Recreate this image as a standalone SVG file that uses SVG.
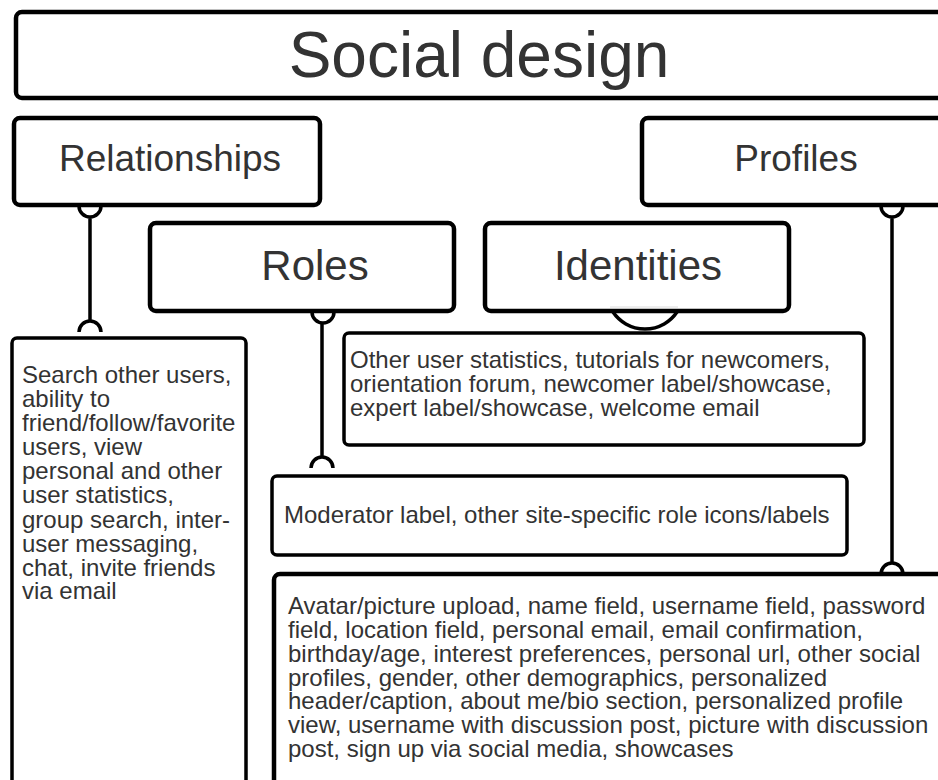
<svg xmlns="http://www.w3.org/2000/svg" width="938" height="780" viewBox="0 0 938 780">
<style>
.box{fill:#fff;stroke:#000;stroke-width:4.5}
.dbox{fill:#fff;stroke:#000;stroke-width:3.5}
.t{font-family:"Liberation Sans",Arial,sans-serif;fill:#333}
.title{font-size:64px;text-anchor:middle}
.lbl{font-size:37px;text-anchor:middle}
.lbl2{font-size:42px;text-anchor:middle}
.body{font-size:24px}
.conn{fill:none;stroke:#000;stroke-width:3.5}
</style>
<rect width="938" height="780" fill="#fff"/>
<g id="title">
<rect class="box" x="16" y="12" width="940" height="86" rx="6"/>
<text class="t title" x="479" y="77">Social design</text>
</g>
<g id="relationships">
<rect class="box" x="14" y="118" width="306" height="87" rx="6"/>
<text class="t lbl" x="170" y="171">Relationships</text>
</g>
<g id="profiles">
<rect class="box" x="642" y="118" width="310" height="87" rx="6"/>
<text class="t lbl" x="796" y="171">Profiles</text>
</g>
<g id="roles">
<rect class="box" x="150" y="223" width="304" height="88" rx="6"/>
<text class="t lbl2" x="315" y="280">Roles</text>
</g>
<g id="identities">
<rect class="box" x="485" y="223" width="304" height="88" rx="6"/>
<text class="t lbl2" x="638" y="280">Identities</text>
</g>
<g id="relationships-detail">
<rect class="dbox" x="12" y="338" width="234" height="460" rx="5"/>
<text class="t body" x="22" y="383">
<tspan x="22" y="383">Search other users,</tspan>
<tspan x="22" y="407">ability to</tspan>
<tspan x="22" y="431">friend/follow/favorite</tspan>
<tspan x="22" y="455">users, view</tspan>
<tspan x="22" y="479">personal and other</tspan>
<tspan x="22" y="503">user statistics,</tspan>
<tspan x="22" y="528">group search, inter-</tspan>
<tspan x="22" y="552">user messaging,</tspan>
<tspan x="22" y="576">chat, invite friends</tspan>
<tspan x="22" y="599">via email</tspan>
</text>
</g>
<g id="identities-detail">
<rect class="dbox" x="344" y="333" width="520" height="112" rx="5"/>
<text class="t body">
<tspan x="350" y="368">Other user statistics, tutorials for newcomers,</tspan>
<tspan x="350" y="392">orientation forum, newcomer label/showcase,</tspan>
<tspan x="350" y="416">expert label/showcase, welcome email</tspan>
</text>
</g>
<g id="roles-detail">
<rect class="dbox" x="272" y="476" width="575" height="79" rx="5"/>
<text class="t body" x="284" y="523">Moderator label, other site-specific role icons/labels</text>
</g>
<g id="profiles-detail">
<rect class="box" x="274" y="574" width="680" height="230" rx="6"/>
<text class="t body">
<tspan x="288" y="614">Avatar/picture upload, name field, username field, password</tspan>
<tspan x="288" y="638">field, location field, personal email, email confirmation,</tspan>
<tspan x="288" y="662">birthday/age, interest preferences, personal url, other social</tspan>
<tspan x="288" y="686">profiles, gender, other demographics, personalized</tspan>
<tspan x="288" y="709">header/caption, about me/bio section, personalized profile</tspan>
<tspan x="288" y="733">view, username with discussion post, picture with discussion</tspan>
<tspan x="288" y="757">post, sign up via social media, showcases</tspan>
</text>
</g>
<g id="connectors">
<path class="conn" d="M79,206 A11,11 0 0 0 101,206 M90,217 V321 M79,332 A11,11 0 0 1 101,332"/>
<path class="conn" d="M312,312 A11,11 0 0 0 334,312 M322,322 V457 M311,468 A11,11 0 0 1 333,468"/>
<path class="conn" d="M881,206 A11,11 0 0 0 903,206 M892,217 V563 M881,574 A11,11 0 0 1 903,574"/>
<path class="conn" d="M613,312 A38.6,38.6 0 0 0 677,312" stroke-width="3"/>
<line x1="610" y1="307" x2="678" y2="307" stroke="#ddd" stroke-width="1"/>
</g>
</svg>
